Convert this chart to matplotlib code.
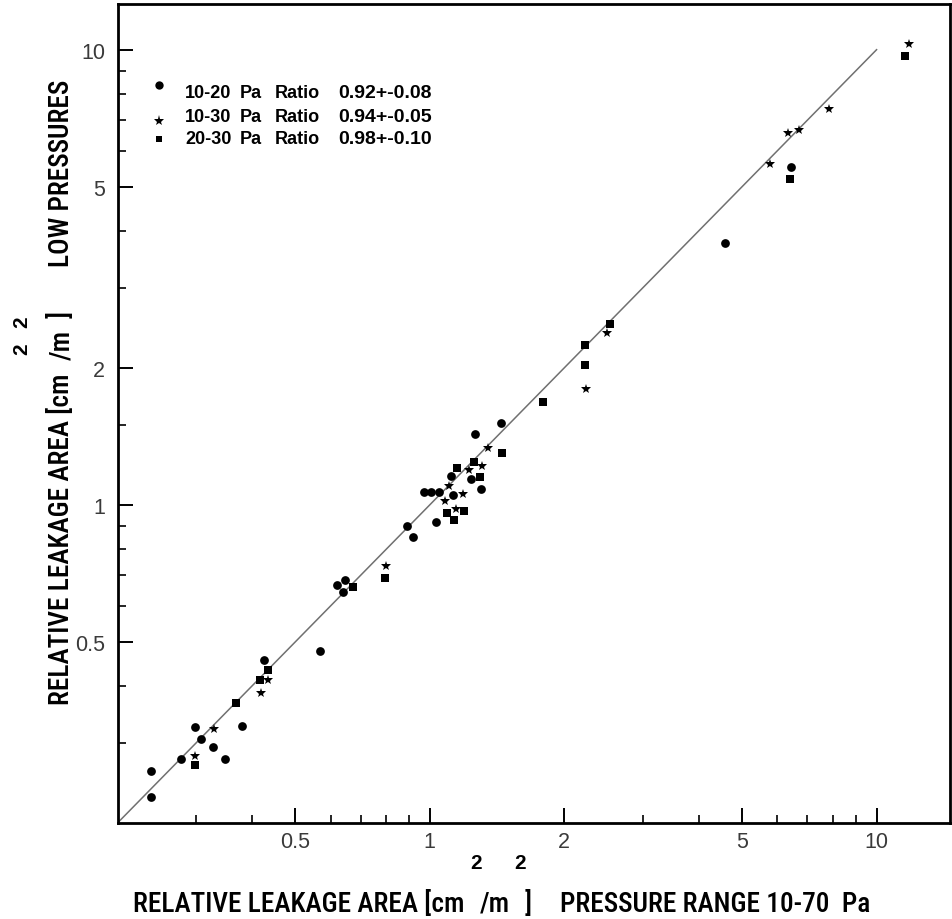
import matplotlib
matplotlib.use("Agg")
import matplotlib.pyplot as plt
from matplotlib import font_manager as fm
from matplotlib.ticker import FixedLocator, NullFormatter, FixedFormatter

# ---------------- data ----------------
circle_x = [0.238, 0.238, 0.277, 0.298, 0.307, 0.327, 0.348, 0.379, 0.4245, 0.568,
            0.620, 0.645, 0.638, 0.887, 0.915, 1.035, 0.969, 1.007, 1.047, 1.114,
            1.126, 1.239, 1.305, 1.261, 1.446, 6.42, 4.59]
circle_y = [0.260, 0.228, 0.277, 0.325, 0.306, 0.294, 0.277, 0.327, 0.457, 0.477,
            0.668, 0.683, 0.645, 0.900, 0.850, 0.917, 1.067, 1.067, 1.067, 1.155,
            1.050, 1.140, 1.083, 1.430, 1.514, 5.53, 3.77]

star_x = [0.298, 0.329, 0.418, 0.4346, 0.800, 1.080, 1.104, 1.143, 1.187, 1.222,
          1.309, 1.351, 2.49, 2.234, 6.35, 6.70, 7.82, 11.81, 5.76]
star_y = [0.281, 0.322, 0.386, 0.412, 0.734, 1.020, 1.098, 0.981, 1.059, 1.193,
          1.219, 1.334, 2.388, 1.800, 6.56, 6.65, 7.41, 10.29, 5.62]

square_x = [0.298, 0.3675, 0.4165, 0.4336, 0.793, 0.674, 1.093, 1.133, 1.193, 1.153,
            1.254, 1.298, 1.448, 1.794, 2.527, 2.226, 2.226, 6.39, 11.55]
square_y = [0.268, 0.367, 0.412, 0.434, 0.690, 0.661, 0.960, 0.925, 0.970, 1.202,
            1.244, 1.149, 1.298, 1.682, 2.500, 2.244, 2.027, 5.21, 9.666]

line_x = [0.2, 10.0]
line_y = [0.2, 10.0]

major_ticks = [0.5, 1, 2, 5, 10]
major_labels = ["0.5", "1", "2", "5", "10"]
x_minor = [0.3, 0.4, 0.6, 0.7, 0.8, 0.9, 3, 4, 6, 7, 8, 9]
y_minor = [0.3, 0.4, 0.6, 0.7, 0.8, 0.9, 1.5, 3, 4, 6, 7, 8, 9]

legend_ranges = ["10-20", "10-30", "20-30"]
legend_ratios = ["0.92+-0.08", "0.94+-0.05", "0.98+-0.10"]

# ---------------- fonts ----------------
names = {f.name for f in fm.fontManager.ttflist}
narrow = None
for cand in ["Liberation Sans Narrow", "Roboto Condensed", "Open Sans Condensed",
             "Arial Narrow", "DejaVu Sans Condensed"]:
    if cand in names:
        narrow = cand
        break
if narrow is None:
    label_font = dict(family="Liberation Sans", fontsize=16.5)
else:
    label_font = dict(family=narrow, fontsize=19.7, fontweight="medium")

W, H = 952, 920
fig = plt.figure(figsize=(W / 100, H / 100), dpi=100)
L, R, T, B = 117.5, 950, 5, 824
ax = fig.add_axes([L / W, 1 - B / H, (R - L) / W, (B - T) / H])
ax.set_xscale("log")
ax.set_yscale("log")
ax.set_xlim(0.2, 14.6)
ax.set_ylim(0.2, 12.6)

ax.plot(line_x, line_y, color="#707070", lw=1.1, zorder=1)

ax.plot(circle_x, circle_y, "o", color="black", ms=6.3, mew=0, zorder=3)
ax.plot(star_x, star_y, "*", color="black", ms=7.5, mew=0, zorder=3)
ax.plot(square_x, square_y, "s", color="black", ms=5.5, mew=0, zorder=3)

for axis, minor in ((ax.xaxis, x_minor), (ax.yaxis, y_minor)):
    axis.set_major_locator(FixedLocator(major_ticks))
    axis.set_major_formatter(FixedFormatter(major_labels))
    axis.set_minor_locator(FixedLocator(minor))
    axis.set_minor_formatter(NullFormatter())

ax.tick_params(which="major", direction="in", length=11, width=1.4, color="black",
               labelsize=15.5, labelcolor="#3a3a3a")
ax.tick_params(which="minor", direction="in", length=5.5, width=1.2, color="black")
ax.tick_params(axis="x", which="major", pad=6)
ax.tick_params(axis="y", which="major", pad=9)
for lab in ax.get_xticklabels() + ax.get_yticklabels():
    lab.set_family("Liberation Sans")

for sp in ax.spines.values():
    sp.set_linewidth(2)
    sp.set_color("black")


def px(x, y):
    return (x / W, 1 - y / H)


# legend (manual)
mk = [("o", 6), ("*", 8), ("s", 5)]
mk_y = [86, 122, 140]
txt_y = [94, 118, 139]
lfont = dict(family="Liberation Sans", fontsize=13, fontweight="bold",
             color="black", va="center", ha="left")
for (m, s), my, ty, rng, rat in zip(mk, mk_y, txt_y, legend_ranges, legend_ratios):
    fig.add_artist(plt.Line2D([159 / W], [1 - my / H], marker=m, ms=s, color="black",
                              mew=0, transform=fig.transFigure))
    fig.text(*px(185, ty), rng, **lfont)
    fig.text(*px(240, ty), "Pa", **lfont)
    fig.text(*px(275, ty), "Ratio", **lfont)
    fig.text(*px(338, ty), rat, **dict(lfont, fontsize=14))

# x label pieces
xl = dict(va="baseline", ha="left", color="black", **label_font)
fig.text(*px(133, 912), "RELATIVE LEAKAGE AREA [cm", **xl)
fig.text(*px(480, 912), "/m", **xl)
fig.text(*px(525, 912), "]", **xl)
fig.text(*px(560, 912), "PRESSURE RANGE 10-70  Pa", **xl)
sup = dict(va="center", ha="center", color="black", fontweight="bold",
           family="Liberation Sans", fontsize=15)
fig.text(*px(476, 864), "2", **sup)
fig.text(*px(520, 864), "2", **sup)

# y label pieces (rotated)
yl = dict(va="baseline", ha="left", color="black", rotation=90,
          rotation_mode="anchor", **label_font)
fig.text(*px(69, 705), "RELATIVE LEAKAGE AREA [cm", **yl)
fig.text(*px(69, 360), "/m", **yl)
fig.text(*px(69, 318), "]", **yl)
fig.text(*px(69, 80), "LOW PRESSURES", **dict(yl, ha="right"))
fig.text(*px(22, 349), "2", rotation=90, **sup)
fig.text(*px(22, 322), "2", rotation=90, **sup)

fig.savefig("out.png", dpi=100)
